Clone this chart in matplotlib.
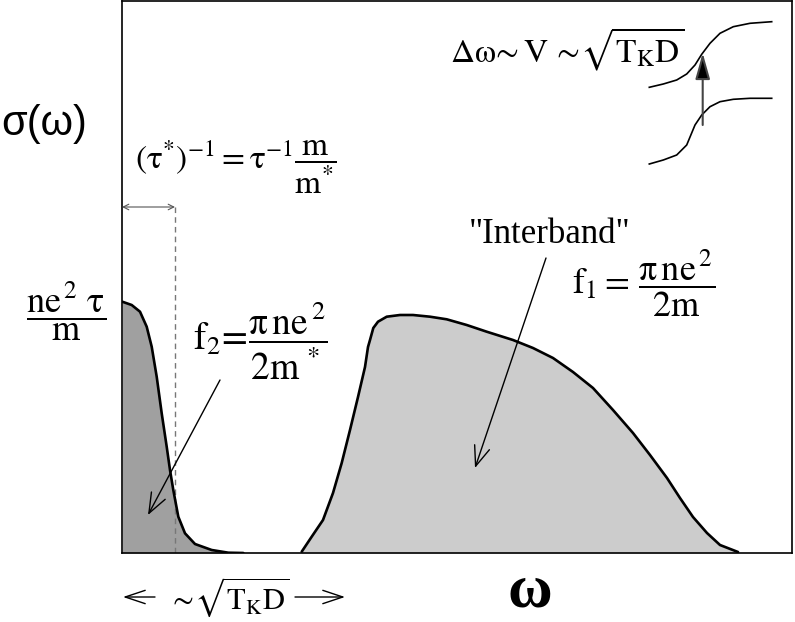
import matplotlib
matplotlib.use("Agg")
import matplotlib.pyplot as plt

plt.rcParams['mathtext.fontset'] = 'stix'
plt.rcParams['mathtext.default'] = 'rm'
plt.rcParams['font.family'] = ['Liberation Serif', 'DejaVu Serif']

# ---- schematic data (figure-pixel units of the original drawing) ----
drude_x = [122.3, 131.7, 140.0, 146.7, 151.7, 156.7, 161.7, 166.7, 170.0, 173.3,
           178.3, 185.0, 195.0, 211.7, 228.3, 243.3]
drude_y = [301.7, 305.0, 311.7, 326.7, 346.7, 376.7, 413.3, 446.7, 470.0, 490.0,
           516.7, 533.3, 544.0, 550.0, 552.7, 553.0]

inter_x = [301.7, 311.7, 323.0, 333.0, 341.7, 350.0, 358.0, 365.0, 368.0, 370.0,
           373.3, 378.0, 386.7, 400.0, 413.0, 430.0, 446.7, 466.7, 486.7, 513.0,
           533.0, 553.0, 573.0, 593.0, 613.0, 633.0, 650.0, 667.0, 680.0, 693.0,
           707.0, 720.0, 738.0]
inter_y = [551.7, 536.7, 520.0, 493.0, 463.0, 430.0, 397.0, 367.0, 347.0, 340.0,
           328.0, 321.7, 316.7, 315.0, 315.0, 316.7, 319.3, 325.0, 331.7, 340.0,
           348.0, 358.0, 372.0, 388.0, 410.0, 433.0, 455.0, 478.0, 498.0, 517.0,
           533.0, 545.0, 552.0]

inset_x = [649.3, 663.3, 676.7, 686.7, 695.0, 701.7, 710.0, 720.0, 733.3, 750.0, 771.7]
inset_upper = [87.3, 84.0, 80.0, 74.0, 65.0, 54.3, 43.3, 33.3, 26.7, 23.3, 21.7]
inset_lower = [164.0, 160.0, 155.0, 145.0, 125.0, 115.0, 106.7, 101.7, 99.3, 98.3, 98.3]

scatter_time_x = 175      # (tau*)^-1 marker position
baseline_y = 553

W, H = 795, 622
fig = plt.figure(figsize=(W / 100, H / 100), dpi=100)
x0, x1, ytop, ybot = 122, 792, 1, 553
ax = fig.add_axes([x0 / W, (H - ybot) / H, (x1 - x0) / W, (ybot - ytop) / H])
ax.set_xlim(x0, x1)
ax.set_ylim(ybot, ytop)
ax.set_xticks([])
ax.set_yticks([])
for s in ax.spines.values():
    s.set_linewidth(1.2)
    s.set_color('black')

# Drude peak
ax.fill_between(drude_x, drude_y, baseline_y, color='#a0a0a0', lw=0, zorder=1)
ax.plot(drude_x, drude_y, color='black', lw=1.9, zorder=3,
        solid_capstyle='round', solid_joinstyle='round')

# Interband
ax.fill_between(inter_x, inter_y, baseline_y, color='#cccccc', lw=0, zorder=1)
ax.plot(inter_x, inter_y, color='black', lw=1.9, zorder=3,
        solid_capstyle='round', solid_joinstyle='round')

# dashed line at 1/tau*
ax.plot([scatter_time_x, scatter_time_x], [207, baseline_y], color='#777777',
        lw=1.0, ls=(0, (4, 3)), zorder=2)
ax.annotate('', xy=(x0, 207), xytext=(scatter_time_x, 207),
            arrowprops=dict(arrowstyle='<->', color='#555555', lw=0.8,
                            shrinkA=0, shrinkB=0, mutation_scale=10),
            annotation_clip=False)

# inset level-repulsion curves
ax.plot(inset_x, inset_upper, color='black', lw=1.2)
ax.plot(inset_x, inset_lower, color='black', lw=1.2)
ax.annotate('', xy=(702.7, 53), xytext=(702.7, 125),
            arrowprops=dict(arrowstyle='-|>,head_length=1.6,head_width=0.45',
                            color='#444444', lw=1.5, shrinkA=0, shrinkB=0,
                            mutation_scale=10, fc='black'))

# pointer arrows
ax.annotate('', xy=(148, 515), xytext=(220, 380),
            arrowprops=dict(arrowstyle='->,head_length=0.9,head_width=0.35',
                            color='black', lw=1.0, shrinkA=0, shrinkB=0,
                            mutation_scale=16), zorder=4)
ax.annotate('', xy=(475, 468), xytext=(546, 258),
            arrowprops=dict(arrowstyle='->,head_length=0.9,head_width=0.35',
                            color='black', lw=1.0, shrinkA=0, shrinkB=0,
                            mutation_scale=16), zorder=4)

# ---- texts ----
ax.text(1, 124, 'σ(ω)', family='Liberation Sans', fontsize=30, ha='left', va='center')
ax.text(135, 167, r'$(\tau^{*})^{-1}=\tau^{-1}\dfrac{m}{m^{*}}$', fontsize=24,
        ha='left', va='center')
ax.text(66, 311, r'$\dfrac{ne^{\,2}\ \tau}{m}$', fontsize=26, ha='center', va='center')
ax.text(193, 341, r'$f_2\!=\!\dfrac{\pi\,ne^{\,2}}{2m^{\,*}}$', fontsize=27,
        ha='left', va='center')
ax.text(550, 243, '"Interband"', fontsize=25, ha='center', va='baseline')
ax.text(572, 283, r'$f_1=\,\dfrac{\pi\,ne^{\,2}}{2m}$', fontsize=26,
        ha='left', va='center')
ax.text(450, 49, r'$\Delta\omega\!\sim V\,\sim\!\sqrt{T_K D}$', fontsize=24,
        ha='left', va='center')

# bottom labels
ax.text(168, 597, r'$\sim\!\sqrt{T_K D}$', fontsize=22, ha='left', va='center')
ax.annotate('', xy=(123, 597), xytext=(155, 597),
            arrowprops=dict(arrowstyle='->,head_length=1.2,head_width=0.4',
                            color='black', lw=1.0, shrinkA=0, shrinkB=0,
                            mutation_scale=12), annotation_clip=False)
ax.annotate('', xy=(345, 597), xytext=(295, 597),
            arrowprops=dict(arrowstyle='->,head_length=1.2,head_width=0.4',
                            color='black', lw=1.0, shrinkA=0, shrinkB=0,
                            mutation_scale=12), annotation_clip=False)
ax.text(530, 592, 'ω', fontsize=44, fontweight='bold', ha='center', va='center')

fig.savefig('out.png', dpi=100)
